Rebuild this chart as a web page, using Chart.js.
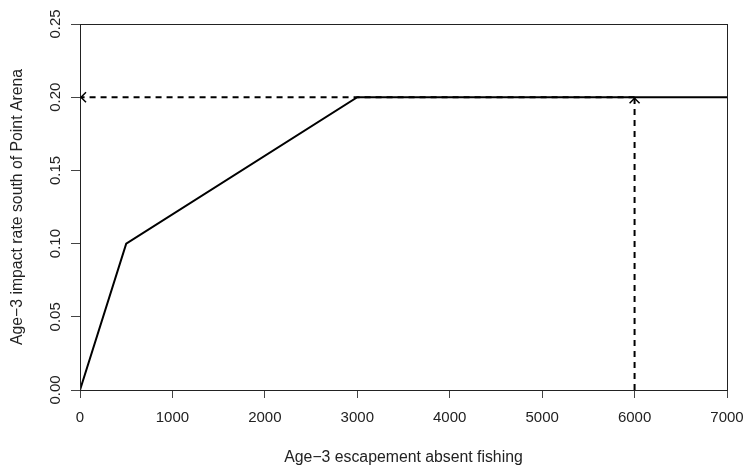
<!DOCTYPE html>
<html>
<head>
<meta charset="utf-8">
<script src="https://cdn.jsdelivr.net/npm/chart.js@4"></script>
<style>
  html, body { margin: 0; padding: 0; background: #fff; }
  #wrap { width: 745px; height: 466px; }
</style>
</head>
<body>
<div id="wrap"><canvas id="chart"></canvas></div>
<script>
// Control rule (solid line)
const ruleX = [0, 500, 3000, 7000];
const ruleY = [0, 0.1, 0.2, 0.2];

// Example lookup (dashed arrows)
const lookupX = 6000;
const lookupY = 0.2;

// Axis ticks
const xTicks = [0, 1000, 2000, 3000, 4000, 5000, 6000, 7000];
const yTicks = [0, 0.05, 0.1, 0.15, 0.2, 0.25];

const FONT = "Liberation Sans, Arial, sans-serif";

// Box, y labels, titles, arrowheads
const decorPlugin = {
  id: "decor",
  afterDraw(chart) {
    const ctx = chart.ctx;
    const a = chart.chartArea;
    const xs = chart.scales.x;
    const ys = chart.scales.y;
    ctx.save();
    // box
    ctx.strokeStyle = "#222";
    ctx.lineWidth = 1;
    ctx.strokeRect(a.left + 0.5, a.top + 0.5, a.right - a.left, a.bottom - a.top);

    // y tick labels, rotated like R
    ctx.fillStyle = "#222";
    ctx.font = "15px " + FONT;
    ctx.textAlign = "center";
    ctx.textBaseline = "alphabetic";
    yTicks.forEach(function (v) {
      const py = ys.getPixelForValue(v);
      ctx.save();
      ctx.translate(60, py);
      ctx.rotate(-Math.PI / 2);
      ctx.fillText(v.toFixed(2), 0, 0);
      ctx.restore();
    });

    // axis titles
    ctx.font = "15.8px " + FONT;
    ctx.fillText("Age\u22123 escapement absent fishing", (a.left + a.right) / 2, 462);
    ctx.save();
    ctx.translate(22, (a.top + a.bottom) / 2);
    ctx.rotate(-Math.PI / 2);
    ctx.fillText("Age\u22123 impact rate south of Point Arena", 0, 0);
    ctx.restore();

    // arrowheads
    ctx.strokeStyle = "#000";
    ctx.lineWidth = 1.5;
    ctx.setLineDash([]);
    const hx = xs.getPixelForValue(0);
    const hy = ys.getPixelForValue(lookupY);
    ctx.beginPath();
    ctx.moveTo(hx + 6, hy - 5);
    ctx.lineTo(hx + 1, hy);
    ctx.lineTo(hx + 6, hy + 5);
    ctx.stroke();
    const vx = xs.getPixelForValue(lookupX);
    ctx.beginPath();
    ctx.moveTo(vx - 5, hy + 6);
    ctx.lineTo(vx, hy + 1);
    ctx.lineTo(vx + 5, hy + 6);
    ctx.stroke();
    ctx.restore();
  }
};

const dataChart = {
  datasets: [
    {
      label: "rule",
      data: ruleX.map(function (x, i) { return { x: x, y: ruleY[i] }; }),
      borderColor: "#000",
      borderWidth: 2,
      pointRadius: 0,
      showLine: true,
      fill: false,
      tension: 0
    },
    {
      label: "vertical",
      data: [{ x: lookupX, y: 0 }, { x: lookupX, y: lookupY }],
      borderColor: "#000",
      borderWidth: 2,
      borderDash: [6, 5],
      pointRadius: 0,
      showLine: true,
      fill: false
    },
    {
      label: "horizontal",
      data: [{ x: lookupX, y: lookupY }, { x: 0, y: lookupY }],
      borderColor: "#000",
      borderWidth: 2,
      borderDash: [6, 5],
      pointRadius: 0,
      showLine: true,
      fill: false
    }
  ]
};

const configChart = {
  type: "scatter",
  data: dataChart,
  options: {
    responsive: true,
    maintainAspectRatio: false,
    animation: false,
    layout: { padding: { left: 0, right: 18, top: 24, bottom: 0 } },
    plugins: { legend: false, tooltip: { enabled: false } },
    scales: {
      x: {
        type: "linear",
        min: 0,
        max: 7000,
        afterBuildTicks: function (s) { s.ticks = xTicks.map(function (v) { return { value: v }; }); },
        afterFit: function (s) { s.height = 76; s.paddingRight = 18; s.paddingLeft = 0; },
        grid: { drawOnChartArea: false, drawTicks: true, tickLength: 8, color: "#444" },
        border: { color: "#444", width: 1 },
        ticks: {
          color: "#222",
          font: { size: 15, family: FONT },
          padding: 11,
          maxRotation: 0,
          callback: function (v) { return String(v); }
        }
      },
      y: {
        type: "linear",
        min: 0,
        max: 0.25,
        afterBuildTicks: function (s) { s.ticks = yTicks.map(function (v) { return { value: v }; }); },
        afterFit: function (s) { s.width = 80; s.paddingTop = 0; s.paddingBottom = 0; },
        grid: { drawOnChartArea: false, drawTicks: true, tickLength: 9, color: "#444" },
        border: { color: "#444", width: 1 },
        ticks: { color: "rgba(0,0,0,0)", font: { size: 15, family: FONT } }
      }
    }
  },
  plugins: [decorPlugin]
};

let impact_chart = new Chart(document.getElementById("chart"), configChart);
</script>
</body>
</html>
